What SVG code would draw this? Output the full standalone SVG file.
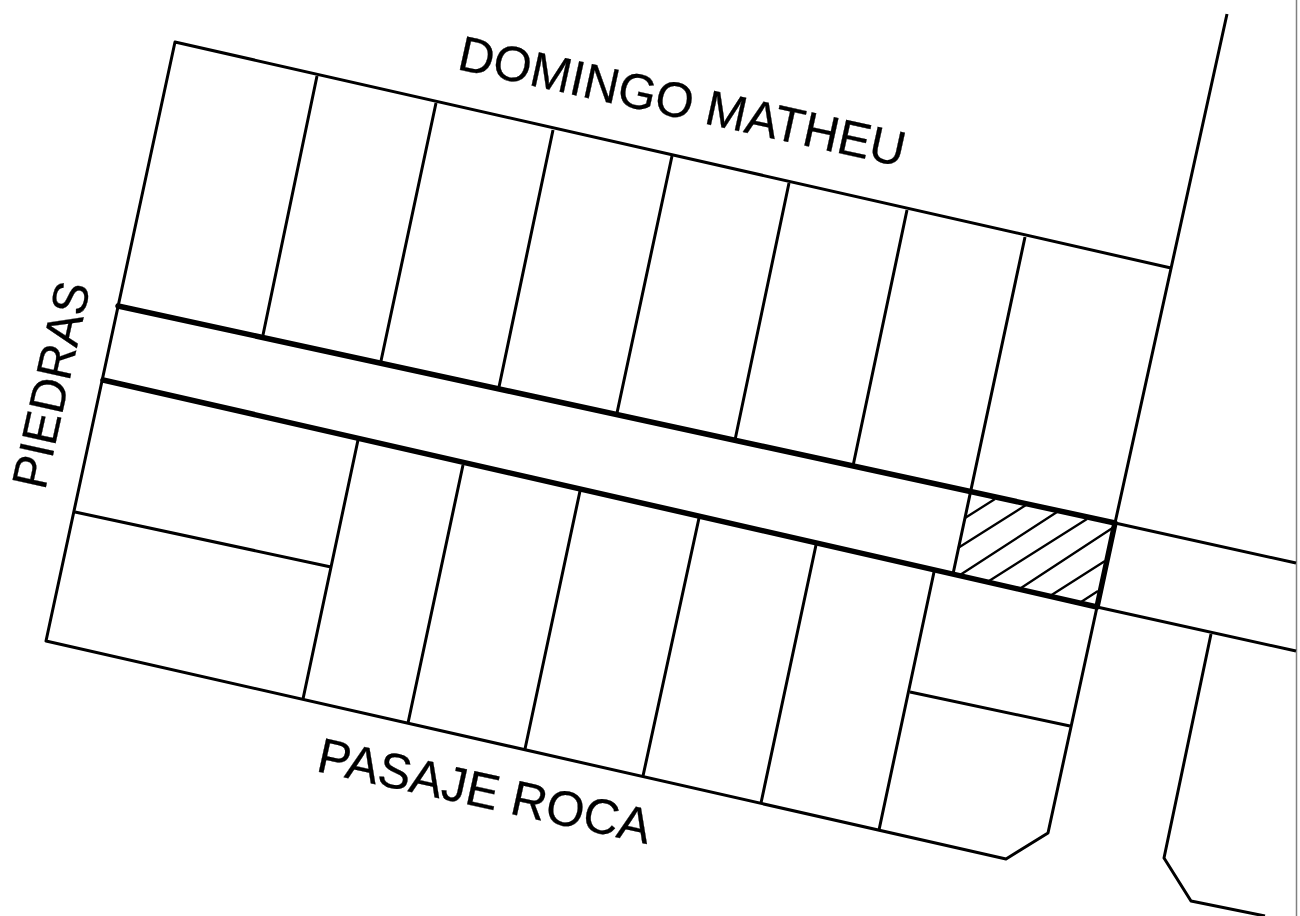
<svg xmlns="http://www.w3.org/2000/svg" width="1300" height="916" viewBox="0 0 1300 916">
<style>
.l{fill:none;stroke:#000;stroke-width:3;stroke-linejoin:round}
.t{fill:none;stroke:#000;stroke-width:5.500;stroke-linecap:round}
.h{fill:none;stroke:#000;stroke-width:2.300}
text{font-family:"Liberation Sans",Arial,sans-serif;font-size:49.500px;fill:#000;stroke:#000;stroke-width:.3}
</style>
<rect width="1300" height="916" fill="#fff"/>
<line x1="1296.500" y1="0" x2="1296.500" y2="916" stroke="#808080" stroke-width="1.500"/>
<g id="outline">
<path class="l" d="M1171 268L175 42L46 641L1006 859L1048 833L1097 607L1115 523L1227 14"/>
<path class="l" d="M1115 523L1296 563M1097 607L1296 651"/>
<path class="l" d="M1211 634L1164 858L1191 901L1265 916"/>
</g>
<g id="parcels">
<path class="l" d="M317 76L263 335M436 103L381 361M553 130L499 387M672 156L617 413M789 183L735 440M907 210L853 466M1025 237L953 574"/>
<path class="l" d="M358 440L303 699M463 465L408 723M580 491L525 749M699 518L643 776M816 545L761 803M934 572L879 830"/>
<path class="l" d="M75 512L331 567M910 692L1070 726"/>
</g>
<g id="corridor">
<path class="t" d="M118 306L1115 523M103 380L1097 607M1115 523L1097 607"/>
</g>
<g id="hatch">
<path class="h" d="M965 518L995 499M958 548L1026 505M960 575L1057 512M989 581L1087 519M1021 588L1114 527M1050 596L1105 561M1081 602L1098 591"/>
</g>
<g id="labels">
<text transform="translate(456 69) rotate(12.4)" textLength="456" lengthAdjust="spacingAndGlyphs">DOMINGO MATHEU</text>
<text transform="translate(315 771) rotate(12.4)" textLength="340" lengthAdjust="spacingAndGlyphs">PASAJE ROCA</text>
<text transform="translate(45 491) rotate(-77.5)" textLength="210" lengthAdjust="spacingAndGlyphs">PIEDRAS</text>
</g>
</svg>
